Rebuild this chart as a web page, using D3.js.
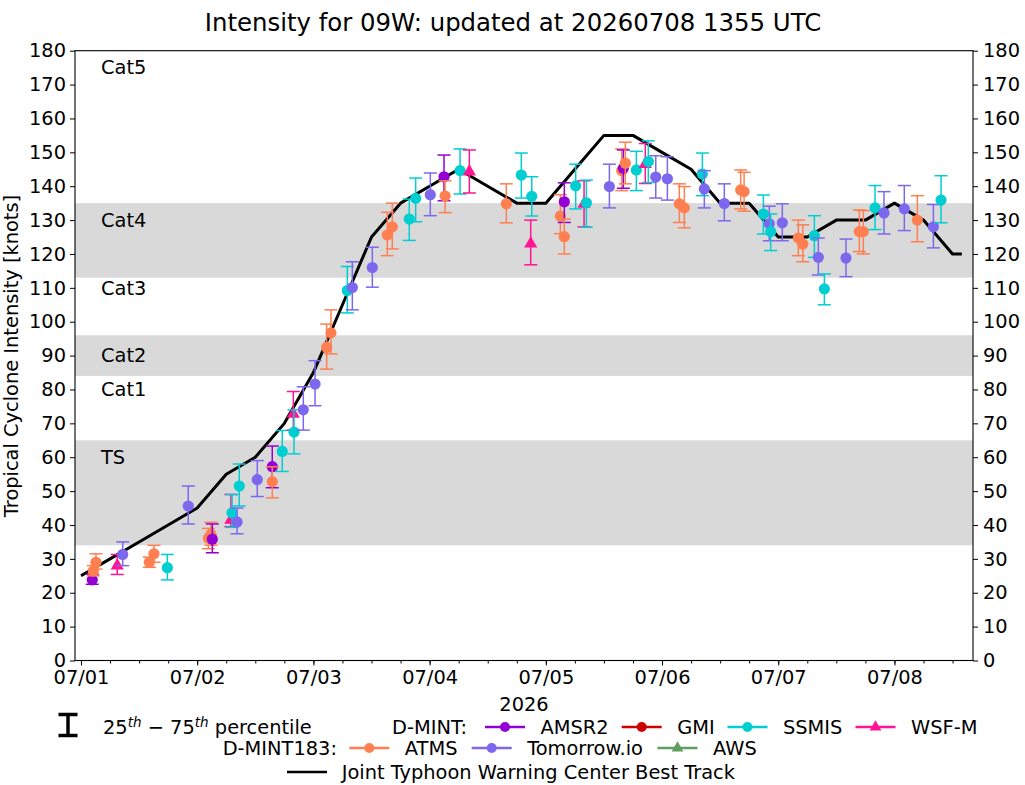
<!DOCTYPE html>
<html><head><meta charset="utf-8">
<script src="https://cdn.jsdelivr.net/npm/d3@7"></script>
<style>
body{margin:0;background:#fff}
text{font-family:"DejaVu Sans",sans-serif;fill:#000}
</style>
</head><body>
<svg id="chart" width="1025" height="785"></svg>
<script>
// ---------------- DATA ----------------
const titleText = "Intensity for 09W: updated at 20260708 1355 UTC";
const yLabelText = "Tropical Cyclone Intensity [knots]";
const yearLabel = "2026";
const dayLabels = ["07/01","07/02","07/03","07/04","07/05","07/06","07/07","07/08"];
const yTickValues = [0,10,20,30,40,50,60,70,80,90,100,110,120,130,140,150,160,170,180];
const bandRanges = [[34,65],[84,96],[113,135]];
const catNames = ["Cat5","Cat4","Cat3","Cat2","Cat1","TS"];
const catValues = [175,130,110,90,80,60];

// Best track: days since 07/01 00Z, knots
const bestDays = [0,0.25,0.5,0.75,1,1.25,1.5,1.75,2,2.25,2.5,2.75,3,3.25,3.5,3.75,4,4.25,4.5,4.75,5,5.25,5.5,5.75,6,6.25,6.5,6.75,7,7.25,7.5,7.58];
const bestVals = [25,30,35,40,45,55,60,70,85,105,125,135,140,145,140,135,135,145,155,155,150,145,135,135,125,125,130,130,135,130,120,120];

// Estimates: [day, median, p25, p75]
const amsr2 = [
 [0.097,23.8,22.5,25.5],[1.130,35.8,31.8,40.3],[1.646,57.2,51.0,63.3],
 [3.124,142.8,135.7,149.2],[4.159,135.4,129.3,141.0],[4.667,145.3,139.4,150.7]
];
const gmi = [];
const ssmis = [
 [0.743,27.4,23.8,31.3],[1.300,43.6,39.3,49.0],[1.362,51.5,45.6,58.0],[1.732,61.7,55.8,67.9],
 [1.833,67.4,61.0,74.0],[2.292,109.2,102.6,116.3],[2.825,130.3,124.0,136.2],[2.880,136.4,129.5,142.4],
 [3.262,144.6,137.7,151.0],[3.789,143.3,136.5,149.8],[3.879,137.0,131.2,142.8],[4.257,140.1,133.3,146.5],
 [4.349,135.1,127.9,141.8],[4.779,144.8,138.7,150.3],[4.882,147.3,141.1,153.4],[5.347,143.6,137.2,149.8],
 [5.872,131.8,125.9,137.4],[5.935,126.6,121.0,131.8],[6.311,125.4,119.0,131.3],[6.397,109.7,105.0,114.1],
 [6.833,133.6,127.2,140.2],[7.401,135.9,129.2,143.1]
];
const wsfm = [
 [0.312,28.0,25.4,31.3],[1.290,41.5,39.5,49.0],[1.827,72.8,68.0,79.4],[3.342,144.3,138.0,150.7],
 [3.870,123.0,116.8,130.0],[4.329,134.8,128.0,141.6],[4.856,146.5,140.8,152.6]
];
const atms = [
 [0.106,26.4,25.0,28.0],[0.129,29.0,27.0,31.5],[0.588,29.0,27.5,30.5],[0.628,31.5,29.0,34.0],
 [1.096,36.1,33.0,39.0],[1.119,37.2,34.0,40.8],[1.646,52.8,48.0,57.2],[2.114,92.4,86.0,99.3],
 [2.151,96.7,90.5,103.5],[2.636,125.6,119.5,132.3],[2.679,128.0,121.5,135.0],[3.133,137.1,132.2,141.6],
 [3.660,134.8,129.2,140.7],[4.125,131.2,126.0,137.5],[4.159,125.1,120.0,130.3],[4.653,144.6,138.7,151.0],
 [4.684,146.8,140.7,153.0],[5.149,134.8,129.3,140.7],[5.192,133.6,127.7,139.9],[5.677,138.9,133.3,144.8],
 [5.706,138.4,132.6,144.1],[6.173,124.7,119.5,130.0],[6.211,122.9,117.7,128.6],[6.698,126.6,120.7,133.0],
 [6.732,126.6,120.0,132.8],[7.197,130.0,123.6,137.2]
];
const tomorrow = [
 [0.359,31.3,28.0,35.0],[0.923,45.6,40.3,51.5],[1.343,40.9,37.4,45.0],[1.517,53.4,48.4,59.0],
 [1.913,74.0,68.0,80.8],[2.014,81.6,75.2,88.5],[2.335,110.1,103.5,117.7],[2.507,116.0,110.2,122.0],
 [3.006,137.5,131.3,143.9],[4.547,139.9,133.6,146.5],[4.946,142.7,136.5,149.0],[5.046,142.2,135.9,148.7],
 [5.364,139.2,133.6,144.6],[5.536,134.9,129.8,140.7],[5.923,128.9,123.9,134.1],[6.035,129.2,123.9,134.8],
 [6.345,119.0,113.8,124.7],[6.583,118.8,113.3,124.4],[6.910,132.1,125.9,138.4],[7.085,133.3,126.9,140.2],
 [7.335,128.0,121.8,134.6]
];
const aws = [];

const sensorNames = ["AMSR2","GMI","SSMIS","WSF-M","ATMS","Tomorrow.io","AWS"];
const sensorColors = ["#9400D3","#CC0000","#00CED1","#FF1493","#FF7F50","#7B68EE","#5F9E5F"];
const sensorShapes = ["circle","circle","circle","triangle","circle","circle","triangle"];
const sensorData = [amsr2,gmi,ssmis,wsfm,atms,tomorrow,aws];

// ---------------- DRAW ----------------
const svg = d3.select("#chart");
const FS = 19.4;
const base = Date.UTC(2026,6,1);
const toDate = d => new Date(base + d*86400000);
const M = {left:75, right:973, top:50.7, bottom:660.5};

const x = d3.scaleUtc().domain([toDate(-0.0516), toDate(7.676)]).range([M.left, M.right]);
const y = d3.scaleLinear().domain([0,180]).range([M.bottom, M.top]);

svg.append("rect").attr("width",1025).attr("height",785).attr("fill","#fff");

// bands
svg.append("g").selectAll("rect").data(bandRanges).join("rect")
  .attr("x",M.left).attr("width",M.right-M.left)
  .attr("y",d=>y(d[1])).attr("height",d=>y(d[0])-y(d[1]))
  .attr("fill","#d9d9d9");

// category labels
svg.append("g").selectAll("text").data(catNames).join("text")
  .attr("x",101).attr("y",(d,i)=>y(catValues[i])).attr("dy","0.35em")
  .attr("font-size",FS).text(d=>d);

// axes
const dayDates = dayLabels.map((d,i)=>toDate(i));
const minorDates = d3.utcHour.every(6).range(toDate(-0.0516), toDate(7.676));

function styleAxis(g){
  g.select(".domain").remove();
  g.selectAll("line").attr("stroke","#000").attr("stroke-width",1);
  g.selectAll("text").attr("font-size",FS).attr("font-family","DejaVu Sans").attr("fill","#000");
}
svg.append("g").attr("transform",`translate(0,${M.bottom})`)
  .call(d3.axisBottom(x).tickValues(minorDates).tickSize(3).tickFormat(""))
  .call(styleAxis);
svg.append("g").attr("transform",`translate(0,${M.bottom})`)
  .call(d3.axisBottom(x).tickValues(dayDates).tickFormat((d,i)=>dayLabels[i]).tickSize(5).tickPadding(5))
  .call(styleAxis);
svg.append("g").attr("transform",`translate(${M.left},0)`)
  .call(d3.axisLeft(y).tickValues(yTickValues).tickSize(5).tickPadding(4))
  .call(styleAxis);
svg.append("g").attr("transform",`translate(${M.right},0)`)
  .call(d3.axisRight(y).tickValues(yTickValues).tickSize(5).tickPadding(5))
  .call(styleAxis);

// best track
svg.append("path")
  .datum(bestDays.map((d,i)=>[d,bestVals[i]]))
  .attr("fill","none").attr("stroke","#000").attr("stroke-width",3).attr("stroke-linejoin","round")
  .attr("d",d3.line().x(d=>x(toDate(d[0]))).y(d=>y(d[1])));

// points, chronological
const allPts = [];
sensorData.forEach((arr,si)=>arr.forEach(p=>allPts.push({si,day:p[0],v:p[1],lo:p[2],hi:p[3]})));
allPts.sort((a,b)=>a.day-b.day);
const triSym = d3.symbol(d3.symbolTriangle, 75);
const capW = 6.5;
const pg = svg.append("g");
allPts.forEach(p=>{
  const cx = x(toDate(p.day)), col = sensorColors[p.si];
  const g = pg.append("g");
  g.append("line").attr("x1",cx).attr("x2",cx).attr("y1",y(p.lo)).attr("y2",y(p.hi))
    .attr("stroke",col).attr("stroke-width",1.5);
  [p.lo,p.hi].forEach(v=>g.append("line").attr("x1",cx-capW).attr("x2",cx+capW)
    .attr("y1",y(v)).attr("y2",y(v)).attr("stroke",col).attr("stroke-width",1.5));
  if(sensorShapes[p.si]==="triangle"){
    g.append("path").attr("d",triSym()).attr("transform",`translate(${cx},${y(p.v)})`).attr("fill",col);
  } else {
    g.append("circle").attr("cx",cx).attr("cy",y(p.v)).attr("r",5.6).attr("fill",col);
  }
});

// frame
svg.append("rect").attr("x",M.left).attr("y",M.top).attr("width",M.right-M.left)
  .attr("height",M.bottom-M.top).attr("fill","none").attr("stroke","#000").attr("stroke-width",1.1);

// title & labels
svg.append("text").attr("x",513).attr("y",31).attr("text-anchor","middle")
  .attr("font-size",24.4).text(titleText);
svg.append("text").attr("transform","translate(18,356) rotate(-90)").attr("text-anchor","middle")
  .attr("font-size",FS).text(yLabelText);
svg.append("text").attr("x",524).attr("y",711).attr("text-anchor","middle")
  .attr("font-size",FS).text(yearLabel);

// legend
const lg = svg.append("g");
lg.append("line").attr("x1",68).attr("x2",68).attr("y1",714).attr("y2",736).attr("stroke","#000").attr("stroke-width",3.5);
lg.append("line").attr("x1",58.5).attr("x2",77.5).attr("y1",714.5).attr("y2",714.5).attr("stroke","#000").attr("stroke-width",3.5);
lg.append("line").attr("x1",58.5).attr("x2",77.5).attr("y1",735.5).attr("y2",735.5).attr("stroke","#000").attr("stroke-width",3.5);
const pct = lg.append("text").attr("x",103).attr("y",733.5).attr("font-size",FS);
pct.append("tspan").text("25");
pct.append("tspan").attr("dy",-7).attr("font-size",13.5).attr("font-style","italic").text("th");
pct.append("tspan").attr("dy",7).text(" \u2212 75");
pct.append("tspan").attr("dy",-7).attr("font-size",13.5).attr("font-style","italic").text("th");
pct.append("tspan").attr("dy",7).text(" percentile");

lg.append("text").attr("x",392).attr("y",727).attr("dy","0.35em").attr("font-size",FS).text("D-MINT:");
lg.append("text").attr("x",222.7).attr("y",748).attr("dy","0.35em").attr("font-size",FS).text("D-MINT183:");

const legendLineX = [485,621.7,727.5,855.5,349.3,471.7,657.5];
const legendRowY = [727,727,727,727,748,748,748];
sensorNames.forEach((nm,i)=>{
  const lx = legendLineX[i], ly = legendRowY[i], col = sensorColors[i];
  lg.append("line").attr("x1",lx).attr("x2",lx+40).attr("y1",ly).attr("y2",ly)
    .attr("stroke",col).attr("stroke-width",2.5);
  if(sensorShapes[i]==="triangle"){
    lg.append("path").attr("d",d3.symbol(d3.symbolTriangle,60)()).attr("transform",`translate(${lx+20},${ly})`).attr("fill",col);
  } else {
    lg.append("circle").attr("cx",lx+20).attr("cy",ly).attr("r",5).attr("fill",col);
  }
  lg.append("text").attr("x",lx+55.5).attr("y",ly).attr("dy","0.35em").attr("font-size",FS).text(nm);
});
lg.append("line").attr("x1",287).attr("x2",327).attr("y1",772).attr("y2",772).attr("stroke","#000").attr("stroke-width",2.5);
lg.append("text").attr("x",341.7).attr("y",772).attr("dy","0.35em").attr("font-size",FS).text("Joint Typhoon Warning Center Best Track");
</script>
</body></html>
